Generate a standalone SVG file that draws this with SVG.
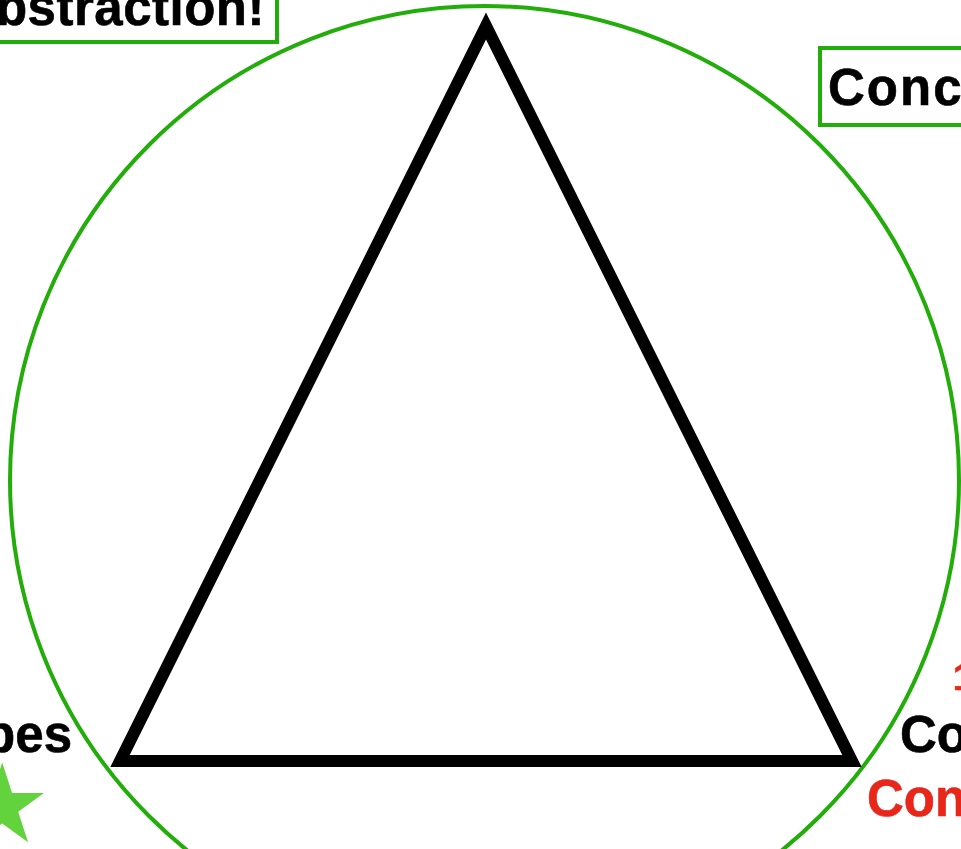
<svg xmlns="http://www.w3.org/2000/svg" width="961" height="849" viewBox="0 0 961 849">
<style>
.lbl{font-family:"Liberation Sans",Arial,Helvetica,sans-serif;font-weight:bold;font-size:51px;fill:#000;stroke:#000;stroke-width:0.6}
.red{fill:#e8261a;stroke:#e8261a}
.box{fill:none;stroke:#22ad0a;stroke-width:4}
</style>
<rect width="961" height="849" fill="#fff"/>
<g id="circle">
<circle cx="484.5" cy="480.5" r="474.5" fill="none" stroke="#22ad0a" stroke-width="4"/>
</g>
<g id="triangle">
<polygon points="486,26 852,761 120,761" fill="none" stroke="#000" stroke-width="12" stroke-linejoin="miter" stroke-miterlimit="10"/>
</g>
<g id="abstraction">
<rect class="box" x="-20" y="-40" width="297" height="82"/>
<text class="lbl" x="265" y="25" text-anchor="end" letter-spacing="0.5">bstraction!</text>
</g>
<g id="conc">
<rect class="box" x="820" y="48" width="200" height="77"/>
<text class="lbl" x="828" y="105" letter-spacing="2">Conc</text>
</g>
<g id="left-label">
<text class="lbl" x="72" y="752" text-anchor="end">bes</text>
<polygon points="2.2,762.6 12.1,793 44,793.0 18.2,811.8 28.1,842.2 2.2,823.4 -23.7,842.2 -13.8,811.8 -39.6,793 -7.7,793" fill="#62d33c"/>
</g>
<g id="right-label">
<text class="lbl red" x="953" y="690" style="font-size:37px">1</text>
<text class="lbl" x="900" y="752">Co</text>
<text class="lbl red" x="867" y="816">Con</text>
</g>
</svg>
